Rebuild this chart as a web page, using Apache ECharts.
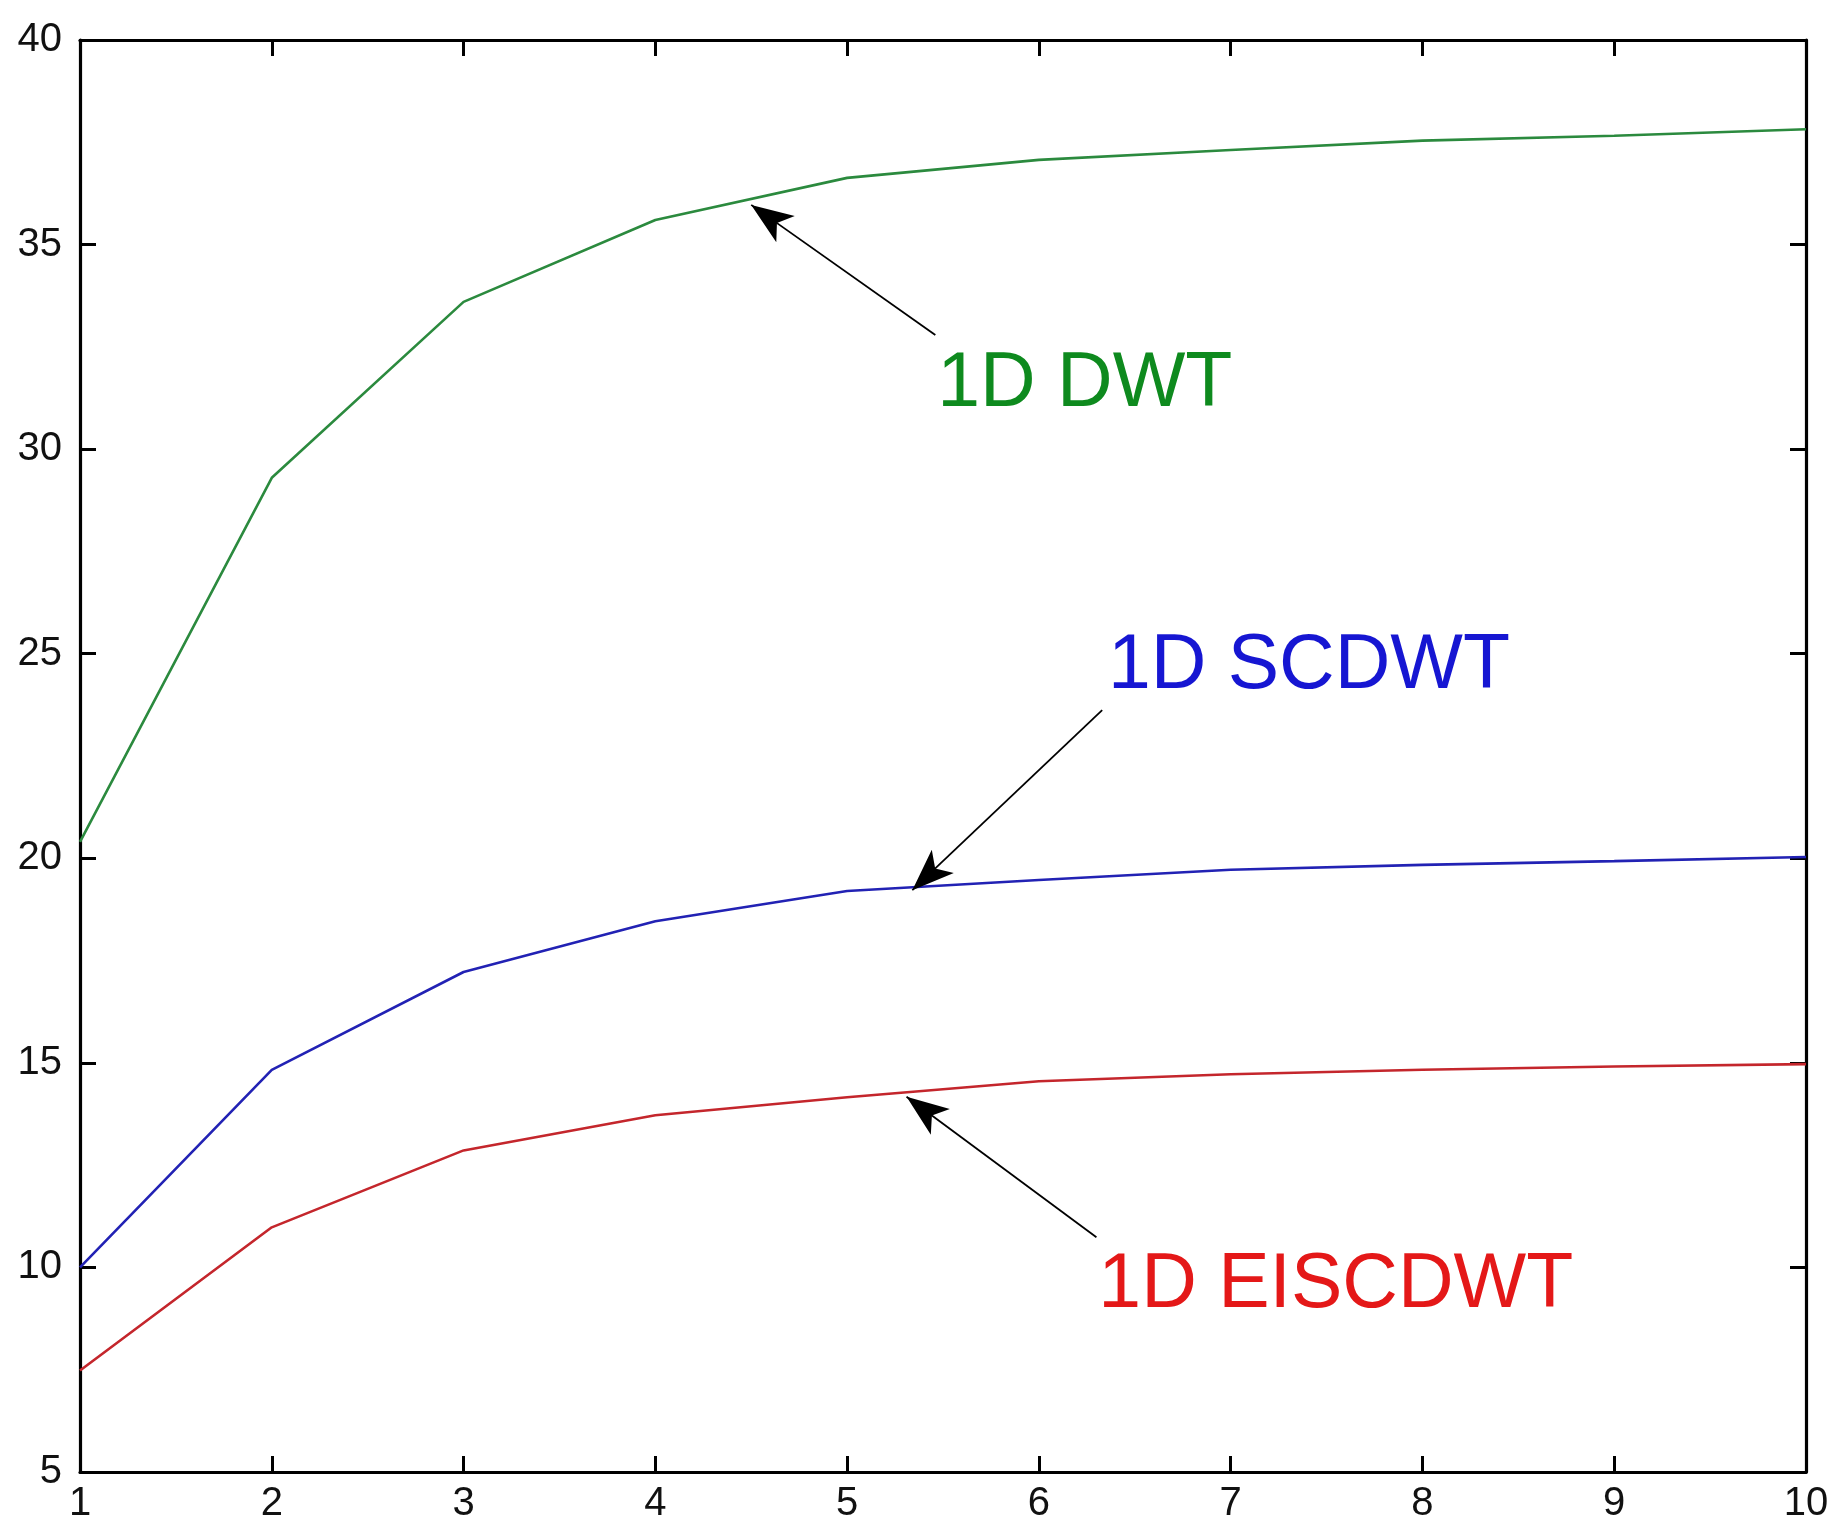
<!DOCTYPE html>
<html>
<head>
<meta charset="utf-8">
<title>1D DWT / SCDWT / EISCDWT</title>
<script src="https://cdn.jsdelivr.net/npm/echarts@6/dist/echarts.min.js"></script>
<style>
  html, body { margin: 0; padding: 0; background: #ffffff; }
  #chart { width: 1834px; height: 1526px; }
</style>
</head>
<body>
<div id="chart"></div>
<script>
// Level index along the horizontal axis
const levels = [1, 2, 3, 4, 5, 6, 7, 8, 9, 10];

// Curve values per level
const dwtValues     = [20.4, 29.3, 33.6, 35.6, 36.63, 37.07, 37.31, 37.54, 37.66, 37.82];
const scdwtValues   = [10.0, 14.83, 17.22, 18.46, 19.2, 19.47, 19.72, 19.84, 19.93, 20.03];
const eiscdwtValues = [7.48, 10.98, 12.86, 13.72, 14.16, 14.55, 14.72, 14.83, 14.91, 14.97];

// Axis tick labels
const xTicks = ['1', '2', '3', '4', '5', '6', '7', '8', '9', '10'];
const yTicks = ['5', '10', '15', '20', '25', '30', '35', '40'];

// Callout text and arrow anchors, in data coordinates
const dwtNote     = { text: '1D DWT',     at: [5.47, 31.57], tail: [5.46, 32.79], head: [4.50, 35.97] };
const scdwtNote   = { text: '1D SCDWT',   at: [6.36, 24.68], tail: [6.33, 23.62], head: [5.34, 19.22] };
const eiscdwtNote = { text: '1D EISCDWT', at: [6.31, 9.55],  tail: [6.30, 10.74], head: [5.31, 14.17] };

const pairs = (vals) => levels.map((x, i) => [x, vals[i]]);

const tickFont = {
  fontFamily: '"Liberation Sans Narrow", "Arial Narrow", "Liberation Sans", Arial, sans-serif',
  fontSize: 40,
  color: '#111111'
};
const noteFont = '"Liberation Sans", Arial, Helvetica, sans-serif';

function callout(note, color) {
  return {
    markLine: {
      silent: true,
      animation: false,
      label: { show: false },
      lineStyle: { color: '#000000', width: 1.8, type: 'solid' },
      emphasis: { disabled: true },
      data: [[
        { coord: note.tail, symbol: 'none' },
        { coord: note.head, symbol: 'arrow', symbolSize: [24, 42] }
      ]]
    },
    markPoint: {
      silent: true,
      animation: false,
      symbol: 'circle',
      symbolSize: 0,
      data: [{
        coord: note.at,
        label: {
          show: true,
          formatter: note.text,
          position: 'right',
          distance: 0,
          color: color,
          fontFamily: noteFont,
          fontSize: 77,
          verticalAlign: 'middle'
        }
      }]
    }
  };
}

function curve(name, vals, lineColor, textColor, note) {
  return Object.assign({
    name: name,
    type: 'line',
    data: pairs(vals),
    showSymbol: false,
    smooth: false,
    lineStyle: { color: lineColor, width: 2.6 },
    itemStyle: { color: lineColor },
    z: 3
  }, callout(note, textColor));
}

const axisLine = { show: true, onZero: false, lineStyle: { color: '#000000', width: 3.2 } };
const axisTick = { show: true, inside: true, length: 16, lineStyle: { color: '#000000', width: 3 } };

const chart = echarts.init(document.getElementById('chart'), null, { renderer: 'canvas' });
chart.setOption({
  animation: false,
  backgroundColor: '#ffffff',
  grid: { left: 80, right: 28, top: 40, bottom: 54, containLabel: false },
  xAxis: [
    {
      type: 'value', position: 'bottom', min: 1, max: 10, interval: 1,
      axisLine: axisLine, axisTick: axisTick, splitLine: { show: false },
      axisLabel: Object.assign({
        margin: 12, showMinLabel: true, showMaxLabel: true,
        formatter: (v) => xTicks[levels.indexOf(v)] || ''
      }, tickFont)
    },
    {
      type: 'value', position: 'top', min: 1, max: 10, interval: 1,
      axisLine: axisLine, axisTick: axisTick, splitLine: { show: false },
      axisLabel: { show: false }
    }
  ],
  yAxis: [
    {
      type: 'value', position: 'left', min: 5, max: 40, interval: 5,
      axisLine: axisLine, axisTick: axisTick, splitLine: { show: false },
      axisLabel: Object.assign({
        margin: 18, showMinLabel: true, showMaxLabel: true,
        formatter: (v) => yTicks[(v - 5) / 5] || ''
      }, tickFont)
    },
    {
      type: 'value', position: 'right', min: 5, max: 40, interval: 5,
      axisLine: axisLine, axisTick: axisTick, splitLine: { show: false },
      axisLabel: { show: false }
    }
  ],
  series: [
    curve('1D DWT', dwtValues, '#2b8a3e', '#0e8a1e', dwtNote),
    curve('1D SCDWT', scdwtValues, '#2222b4', '#1616d2', scdwtNote),
    curve('1D EISCDWT', eiscdwtValues, '#c4262c', '#e41818', eiscdwtNote)
  ]
});
</script>
</body>
</html>
